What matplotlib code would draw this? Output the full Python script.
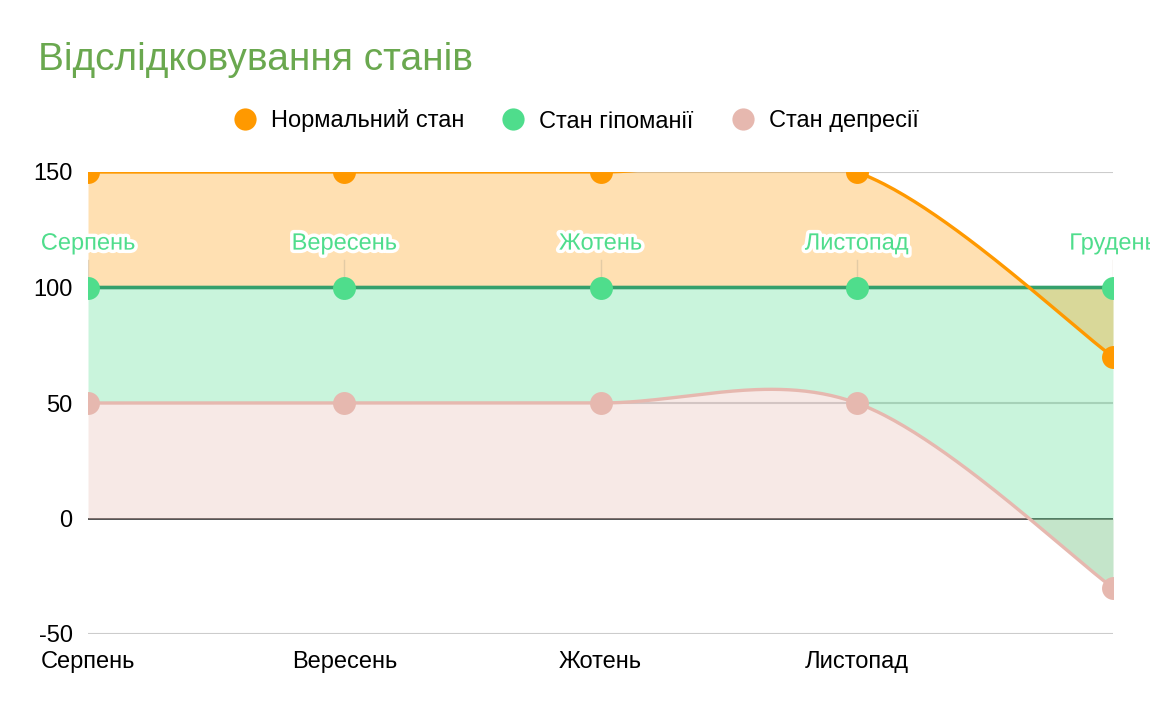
import numpy as np
import matplotlib
matplotlib.use("Agg")
import matplotlib.pyplot as plt
import matplotlib.patheffects as pe
from matplotlib.lines import Line2D

plt.rcParams['font.family'] = ['Liberation Sans', 'DejaVu Sans']

title = "Відслідковування станів"
months = ["Серпень", "Вересень", "Жотень", "Листопад", "Грудень"]
tick_labels = ["Серпень", "Вересень", "Жотень", "Листопад"]
normal = [150, 150, 150, 150, 70]
hypomania = [100, 100, 100, 100, 100]
depression = [50, 50, 50, 50, -30]
series_names = ["Нормальний стан", "Стан гіпоманії", "Стан депресії"]
yticks = [-50, 0, 50, 100, 150]

c_orange = "#ff9900"
c_green = "#4fdd8c"
c_green_line = "#34a06c"
c_pink = "#e6b8af"


def smooth(xs, ys, n=60):
    """Catmull-Rom style bezier smoothing of the given points."""
    xs = np.asarray(xs, float)
    ys = np.asarray(ys, float)
    P = np.column_stack([xs, ys])
    out = []
    m = len(P)
    for i in range(m - 1):
        p0 = P[i - 1] if i > 0 else P[i]
        p1 = P[i]
        p2 = P[i + 1]
        p3 = P[i + 2] if i + 2 < m else P[i + 1]
        c1 = p1 + (p2 - p0) / 6.0
        c2 = p2 - (p3 - p1) / 6.0
        t = np.linspace(0, 1, n)[:, None]
        b = ((1 - t) ** 3) * p1 + 3 * ((1 - t) ** 2) * t * c1 + 3 * (1 - t) * t ** 2 * c2 + t ** 3 * p2
        if i > 0:
            b = b[1:]
        out.append(b)
    out = np.vstack(out)
    return out[:, 0], out[:, 1]


x = np.arange(len(months))
grid = np.linspace(0, len(months) - 1, 2000)

curves = {}
for name, vals in zip(series_names, [normal, hypomania, depression]):
    sx, sy = smooth(x, vals)
    curves[name] = np.interp(grid, sx, sy)

yo = curves[series_names[0]]
yg = curves[series_names[1]]
yp = curves[series_names[2]]

fig = plt.figure(figsize=(11.5, 7.1), dpi=100)
ax = fig.add_axes([88 / 1150, 1 - 634 / 710, 1025 / 1150, 462 / 710])
ax.set_xlim(0, len(months) - 1)
ax.set_ylim(-50, 150)

# gridlines
for yv in yticks:
    if yv == 0:
        ax.axhline(yv, color="#333333", lw=1.2, zorder=1)
    else:
        ax.axhline(yv, color="#cccccc", lw=1.5, zorder=1)

# fills
ax.fill_between(grid, yp, 0, color=c_pink, alpha=0.3, lw=0, zorder=2)
ax.fill_between(grid, yg, yp, color=c_green, alpha=0.3, lw=0, zorder=3)
ax.fill_between(grid, yo, yg, color=c_orange, alpha=0.3, lw=0, zorder=4)

# annotation stubs + labels
label_y = 119
for xi, m in zip(x, months):
    ax.plot([xi, xi], [100, 112], color="#c8b79a", lw=1, alpha=0.5, zorder=5)
    ax.text(xi, label_y, m, ha="center", va="center", fontsize=17, color=c_green,
            clip_on=False, zorder=9,
            path_effects=[pe.withStroke(linewidth=5, foreground="white")])

# lines
ax.plot(grid, yp, color=c_pink, lw=2.4, zorder=6, solid_capstyle="round")
ax.plot(grid, yg, color=c_green_line, lw=2.6, zorder=6)
ax.plot(grid, yo, color=c_orange, lw=2.4, zorder=6, solid_capstyle="round")

# markers
ax.plot(x, depression, "o", color=c_pink, ms=16.5, mew=0, zorder=7)
ax.plot(x, hypomania, "o", color=c_green, ms=16.5, mew=0, zorder=7)
ax.plot(x, normal, "o", color=c_orange, ms=16.5, mew=0, zorder=7)

ax.set_yticks(yticks)
ax.set_yticklabels([str(v) for v in yticks])
ax.set_xticks(x[:len(tick_labels)])
ax.set_xticklabels(tick_labels)
ax.tick_params(axis="both", length=0, labelsize=17, colors="black")
ax.tick_params(axis="y", pad=11)
ax.tick_params(axis="x", pad=12)
for s in ax.spines.values():
    s.set_visible(False)

fig.text(38 / 1150, 1 - 60 / 710, title, fontsize=28, color="#6aa84f", va="center", ha="left")

handles = [Line2D([], [], marker="o", ls="", color=c, ms=16, mew=0)
           for c in [c_orange, c_green, c_pink]]
fig.legend(handles, series_names, loc="center", bbox_to_anchor=(576 / 1150, 1 - 121 / 710),
           ncol=3, frameon=False, fontsize=17, handletextpad=0.6, columnspacing=1.6,
           handlelength=1.0)

fig.savefig("out.png", dpi=100)
